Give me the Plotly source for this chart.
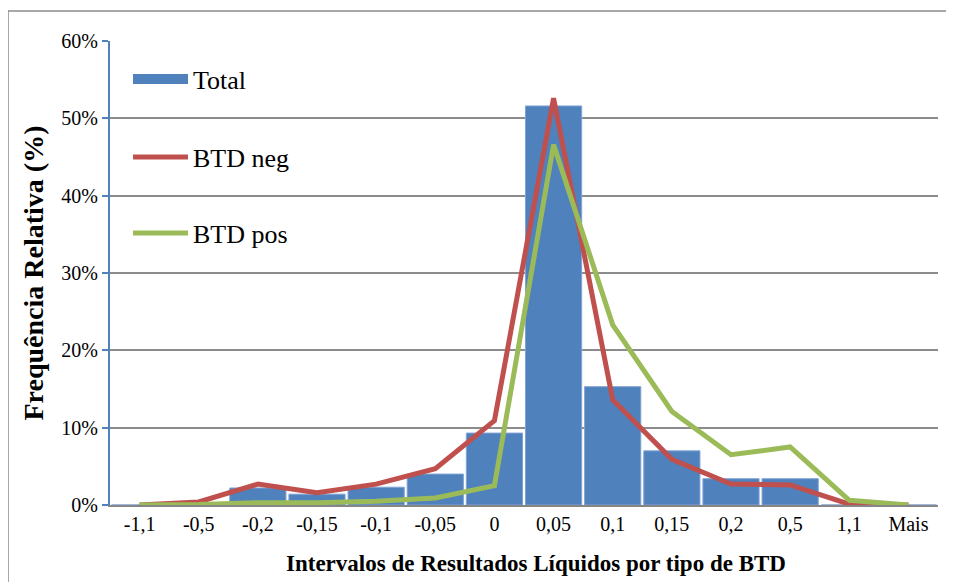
import plotly.graph_objects as go

categories = ["-1,1", "-0,5", "-0,2", "-0,15", "-0,1", "-0,05", "0", "0,05",
              "0,1", "0,15", "0,2", "0,5", "1,1", "Mais"]
total = [0.0, 0.0, 2.2, 1.4, 2.3, 4.0, 9.3, 51.6, 15.3, 7.0, 3.4, 3.4, 0.0, 0.0]
btd_neg = [0.0, 0.4, 2.7, 1.6, 2.7, 4.7, 10.9, 52.6, 13.6, 5.9, 2.7, 2.6, 0.1, 0.0]
btd_pos = [0.0, 0.05, 0.3, 0.3, 0.5, 0.9, 2.5, 46.6, 23.3, 12.1, 6.5, 7.5, 0.6, 0.0]
y_ticks = [0, 10, 20, 30, 40, 50, 60]
y_tick_labels = ["0%", "10%", "20%", "30%", "40%", "50%", "60%"]

FONT = "Liberation Serif"
BLUE, RED, GREEN = "#4F81BD", "#C0504D", "#9BBB59"

fig = go.Figure()
fig.add_trace(go.Bar(x=categories, y=total, name="Total", showlegend=False,
                     legendgroup="total",
                     marker=dict(color=BLUE, line=dict(color="#7FA3D3", width=1))))
# legend key for the bars: a wide flat block, like the original
fig.add_trace(go.Scatter(x=[categories[0]], y=[None], name="Total", mode="lines",
                         legendgroup="total", showlegend=True, hoverinfo="skip",
                         line=dict(color=BLUE, width=14), legend="legend"))
fig.add_trace(go.Scatter(x=categories, y=btd_neg, name="BTD neg", mode="lines",
                         showlegend=True,
                         line=dict(color=RED, width=5), legend="legend2"))
fig.add_trace(go.Scatter(x=categories, y=btd_pos, name="BTD pos", mode="lines",
                         showlegend=True,
                         line=dict(color=GREEN, width=5), legend="legend3"))

leg_common = dict(bgcolor="rgba(0,0,0,0)", itemwidth=55, visible=True,
                  font=dict(family=FONT, size=26, color="#000000"),
                  xanchor="left", yanchor="middle", xref="paper", yref="paper")

# page has an 8px body margin: figure origin sits at (8, 8) in the screenshot
PL, PT, PR, PB = 110 - 8, 41 - 8, 16, 77
PW = 938 - 110
PH = 505 - 41
LX = 18 / PW

fig.update_layout(
    width=946, height=574,
    showlegend=True,
    margin=dict(l=PL, r=PR, t=PT, b=PB),
    paper_bgcolor="white", plot_bgcolor="white",
    bargap=0.05,
    font=dict(family=FONT, size=20, color="#000000"),
    legend=dict(x=LX, y=(505 - 79) / PH, **leg_common),
    legend2=dict(x=LX, y=(505 - 157) / PH, **leg_common),
    legend3=dict(x=LX, y=(505 - 233) / PH, **leg_common),
    xaxis=dict(
        type="category", showgrid=False, showline=True, linecolor="#868686",
        linewidth=2, ticks="", tickfont=dict(family=FONT, size=20),
    ),
    yaxis=dict(
        range=[0, 60], tickmode="array", tickvals=y_ticks, ticktext=y_tick_labels,
        showgrid=True, gridcolor="#8C8C8C", gridwidth=1.5,
        showline=True, linecolor=BLUE, linewidth=2,
        ticks="outside", tickcolor=BLUE, ticklen=6, tickwidth=1.5,
        tickfont=dict(family=FONT, size=20), zeroline=False,
        title=dict(text="<b>Frequência Relativa (%)</b>",
                   font=dict(family=FONT, size=28), standoff=10),
    ),
    annotations=[
        dict(text="<b>Intervalos de Resultados Líquidos por tipo de BTD</b>",
             xref="paper", yref="paper", x=(536 - 110) / PW, y=(505 - 563) / PH,
             xanchor="center", yanchor="middle", showarrow=False,
             font=dict(family=FONT, size=23, color="#000000")),
    ],
    shapes=[
        dict(type="rect", xref="paper", yref="paper",
             x0=(8 - 110) / PW, x1=1.2, y0=-0.5, y1=(505 - 11) / PH,
             line=dict(color="#8C8C8C", width=1.5), fillcolor="rgba(0,0,0,0)",
             layer="below"),
    ],
)

fig.write_html("out.html")
